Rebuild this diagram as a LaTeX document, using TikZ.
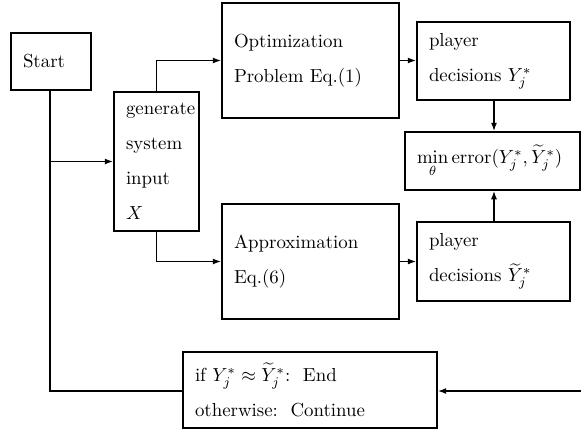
\documentclass[tikz,border=0pt]{standalone}
\usetikzlibrary{arrows.meta}
\begin{document}
\begin{tikzpicture}[x=0.53pt,y=-0.53pt,
  line width=0.8pt,
  >={Latex[length=4.5pt,width=3.2pt]},
  box/.style 2 args={draw, rectangle, align=left,
    minimum width=#1*0.53pt, minimum height=#2*0.53pt,
    text width=(#1-24)*0.53pt, inner xsep=6.36pt, inner ysep=0pt,
    font=\fontsize{10}{18.5}\selectfont}]
  \useasboundingbox (0,0) rectangle (581,431);

  % process boxes
  \node[box={80}{57}]   (start) at (51,61.5)    {Start};
  \node[box={85}{139}]  (gen)   at (156.5,161.5) {generate\\system\\input\\$X$};
  \node[box={177}{115}] (opt)   at (310.5,60.5)  {Optimization\\Problem Eq.(1)};
  \node[box={177}{115}] (apx)   at (310.5,261.5) {Approximation\\Eq.(6)};
  \node[box={153}{78}]  (p1)    at (493.5,61)    {player\\decisions $Y_j^*$};
  \node[box={153}{79}]  (p2)    at (493.5,261.5) {player\\decisions $\widetilde{Y}_j^*$};
  \node[box={175}{58}]  (mn)    at (492.5,161)   {$\min\limits_{\theta}\mathrm{error}(Y_j^*,\widetilde{Y}_j^*)$};
  \node[box={254}{76}]  (cond)  at (310,390)
    {if $Y_j^*\approx\widetilde{Y}_j^*$:\ \ End\\otherwise:\ \ Continue};

  % helper points for the feedback loop
  \coordinate (loopL) at (50,391);
  \coordinate (loopR) at (581,391);

  % connectors
  \draw (start.south -| loopL) -- (loopL) -- (cond.west |- loopL);
  \draw[->] (start.south -| loopL) |- (gen.west);
  \draw[->] (gen.north) |- (opt.west);
  \draw[->] (gen.south) |- (apx.west);
  \draw[->] (opt.east) -- (p1.west |- opt.east);
  \draw[->] (apx.east) -- (p2.west |- apx.east);
  \draw[->] (p1.south -| 494,0) -- (mn.north -| 494,0);
  \draw[->] (p2.north -| 494,0) -- (mn.south -| 494,0);
  \draw[->] (loopR) -- (cond.east |- loopR);
\end{tikzpicture}
\end{document}
